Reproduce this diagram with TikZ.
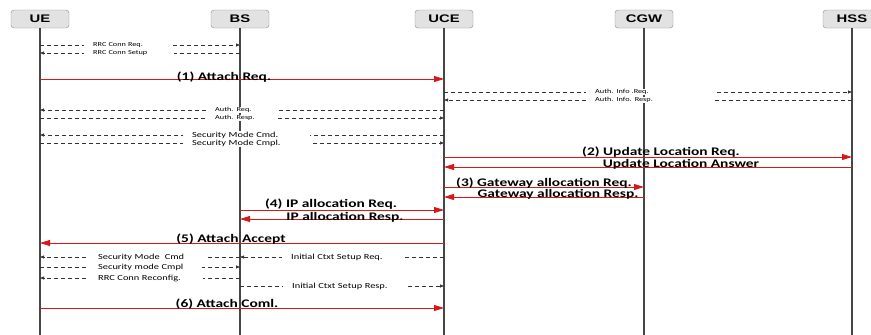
\documentclass[tikz,border=0pt]{standalone}
\usepackage{fontspec}
\setmainfont{Carlito}
\newfontfamily\msgfont[FakeStretch=1.33]{Carlito}
\newfontfamily\hdrfont[FakeStretch=1.35]{Liberation Sans}
\usepackage{tikz}
\definecolor{msgred}{RGB}{214, 24, 24}
\definecolor{boxgray}{RGB}{226, 226, 226}
\definecolor{lifegray}{RGB}{70, 70, 70}
\usetikzlibrary{
  arrows.meta,
  positioning,
}
\tikzset{
  >=Triangle,
  actor/.style={draw=gray!90,rounded corners=3pt,fill=boxgray,minimum width=58,minimum height=18,inner sep=0pt,
    font=\hdrfont\bfseries\fontsize{11}{12}\selectfont},
  lifeline/.style={draw=lifegray,line width=1.3pt},
  redmsg/.style={draw=msgred,line width=0.8pt,-{Triangle[length=10pt,width=6pt]}},
  dashmsg/.style={draw=black!80,line width=0.7pt,dash pattern=on 4pt off 3pt,-{Triangle[length=4pt,width=3pt]}},
  boldlbl/.style={anchor=base,inner sep=0pt,font=\msgfont\bfseries\fontsize{11.6}{12}\selectfont},
  smalllbl/.style={anchor=west,fill=white,inner xsep=9pt,inner ysep=0.5pt,align=left,text width=#1,
    font=\msgfont\fontsize{6.2}{6.6}\selectfont},
  midlbl/.style={anchor=west,fill=white,inner xsep=9pt,inner ysep=0.5pt,align=left,text width=#1,
    font=\msgfont\fontsize{7.8}{8.5}\selectfont},
}
\begin{document}
\begin{tikzpicture}[x=1pt,y=-1pt]
      \useasboundingbox (0,0) rectangle (871,335);
      \node[actor] (ue)  at (40,19)  {UE};
      \node[actor] (bs)  at (240,19) {BS};
      \node[actor] (uce) at (444,19) {UCE};
      \node[actor] (cgw) at (644,19) {CGW};
      \node[actor] (hss) at (852,19) {HSS};

      \draw[lifeline] (ue)  -- (ue |- 0,335);
      \draw[lifeline] (bs)  -- (bs |- 0,335);
      \draw[lifeline] (uce) -- (uce |- 0,335);
      \draw[lifeline] (cgw) -- (cgw |- 0,335);
      \draw[lifeline] (hss) -- (hss |- 0,335);

      \draw[dashmsg] (ue |- 0,45) -- (bs |- 0,45);
      \node[smalllbl=68] (m1) at (84,45) {RRC Conn Req.};
      \draw[dashmsg] (bs |- 0,53) -- (ue |- 0,53);
      \node[smalllbl=72] (m2) at (84,53) {RRC Conn Setup};

      \draw[redmsg] (ue |- 0,79) -- (uce |- 0,79);
      \node[boldlbl] (m3) at (224,80) {(1) Attach Req.};

      \draw[dashmsg] (uce |- 0,92) -- (hss |- 0,92);
      \node[smalllbl=110] (m4) at (586,92) {Auth. Info .Req.};
      \draw[dashmsg] (hss |- 0,100) -- (uce |- 0,100);
      \node[smalllbl=110] (m5) at (586,100) {Auth. Info. Resp.};

      \draw[dashmsg] (uce |- 0,110) -- (ue |- 0,110);
      \node[smalllbl=52] (m6) at (206,110) {Auth. Req.};
      \draw[dashmsg] (ue |- 0,118) -- (uce |- 0,118);
      \node[smalllbl=52] (m7) at (206,118) {Auth. Resp.};

      \draw[dashmsg] (uce |- 0,135) -- (ue |- 0,135);
      \node[midlbl=109] (m8) at (183,135) {Security Mode Cmd.};
      \draw[dashmsg] (ue |- 0,143) -- (uce |- 0,143);
      \node[midlbl=109] (m9) at (183,143) {Security Mode Cmpl.};

      \draw[redmsg] (uce |- 0,157) -- (hss |- 0,157);
      \node[boldlbl] (m10) at (661,155) {(2) Update Location Req.};
      \draw[redmsg] (hss |- 0,167) -- (uce |- 0,167);
      \node[boldlbl] (m11) at (681,167) {Update Location Answer};

      \draw[redmsg] (uce |- 0,187) -- (cgw |- 0,187);
      \node[boldlbl] (m12) at (544,186) {(3) Gateway allocation Req.};
      \draw[redmsg] (cgw |- 0,197) -- (uce |- 0,197);
      \node[boldlbl] (m13) at (558,197) {Gateway allocation Resp.};

      \draw[redmsg] (bs |- 0,210) -- (uce |- 0,210);
      \node[boldlbl] (m14) at (331,207) {(4) IP allocation Req.};
      \draw[redmsg] (uce |- 0,219) -- (bs |- 0,219);
      \node[boldlbl] (m15) at (345,220) {IP allocation Resp.};

      \draw[redmsg] (uce |- 0,243) -- (ue |- 0,243);
      \node[boldlbl] (m16) at (231,242) {(5) Attach Accept};

      \draw[dashmsg] (bs |- 0,257) -- (ue |- 0,257);
      \node[midlbl=98] (m17) at (89,257) {Security Mode\ \ Cmd};
      \draw[dashmsg] (uce |- 0,257) -- (bs |- 0,257);
      \node[midlbl=102] (m18) at (282,257) {Initial Ctxt Setup Req.};
      \draw[dashmsg] (ue |- 0,267) -- (bs |- 0,267);
      \node[midlbl=95] (m19) at (89,267) {Security mode Cmpl};
      \draw[dashmsg] (bs |- 0,278) -- (ue |- 0,278);
      \node[midlbl=96] (m20) at (89,278) {RRC Conn Reconfig.};
      \draw[dashmsg] (bs |- 0,286) -- (uce |- 0,286);
      \node[midlbl=104] (m21) at (283,286) {Initial Ctxt Setup Resp.};

      \draw[redmsg] (ue |- 0,308) -- (uce |- 0,308);
      \node[boldlbl] (m22) at (227,307) {(6) Attach Coml.};
    \end{tikzpicture}
\end{document}
